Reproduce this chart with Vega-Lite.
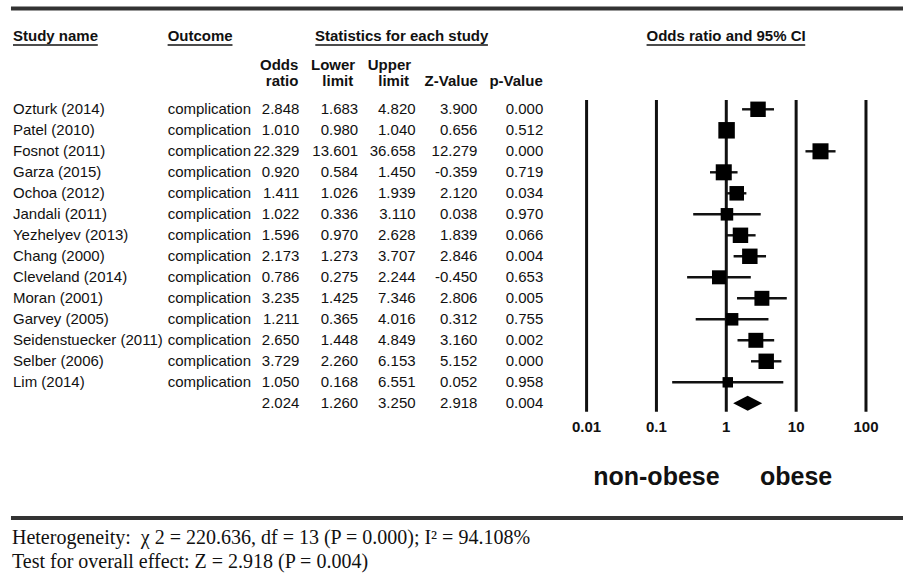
{
  "$schema": "https://vega.github.io/schema/vega-lite/v6.json",
  "width": 905,
  "height": 578,
  "autosize": {"type": "fit", "contains": "padding"},
  "padding": 0,
  "background": "white",
  "config": {
    "view": {"stroke": null},
    "locale": {"number": {"decimal": ".", "thousands": ",", "grouping": [3], "currency": ["$", ""], "minus": "-"}},
    "text": {"font": "Liberation Sans", "fontSize": 15, "color": "#111"}
  },
  "datasets": {
    "rows": [
      {"i": 0, "kind": "study", "study": "Ozturk (2014)", "outcome": "complication", "or": 2.848, "lo": 1.683, "hi": 4.820, "z": 3.900, "p": 0.000, "w": 7.9},
      {"i": 1, "kind": "study", "study": "Patel (2010)", "outcome": "complication", "or": 1.010, "lo": 0.980, "hi": 1.040, "z": 0.656, "p": 0.512, "w": 9.0},
      {"i": 2, "kind": "study", "study": "Fosnot (2011)", "outcome": "complication", "or": 22.329, "lo": 13.601, "hi": 36.658, "z": 12.279, "p": 0.000, "w": 8.5},
      {"i": 3, "kind": "study", "study": "Garza (2015)", "outcome": "complication", "or": 0.920, "lo": 0.584, "hi": 1.450, "z": -0.359, "p": 0.719, "w": 8.5},
      {"i": 4, "kind": "study", "study": "Ochoa (2012)", "outcome": "complication", "or": 1.411, "lo": 1.026, "hi": 1.939, "z": 2.120, "p": 0.034, "w": 7.0},
      {"i": 5, "kind": "study", "study": "Jandali (2011)", "outcome": "complication", "or": 1.022, "lo": 0.336, "hi": 3.110, "z": 0.038, "p": 0.970, "w": 5.2},
      {"i": 6, "kind": "study", "study": "Yezhelyev (2013)", "outcome": "complication", "or": 1.596, "lo": 0.970, "hi": 2.628, "z": 1.839, "p": 0.066, "w": 7.9},
      {"i": 7, "kind": "study", "study": "Chang (2000)", "outcome": "complication", "or": 2.173, "lo": 1.273, "hi": 3.707, "z": 2.846, "p": 0.004, "w": 7.9},
      {"i": 8, "kind": "study", "study": "Cleveland (2014)", "outcome": "complication", "or": 0.786, "lo": 0.275, "hi": 2.244, "z": -0.450, "p": 0.653, "w": 6.5},
      {"i": 9, "kind": "study", "study": "Moran (2001)", "outcome": "complication", "or": 3.235, "lo": 1.425, "hi": 7.346, "z": 2.806, "p": 0.005, "w": 7.4},
      {"i": 10, "kind": "study", "study": "Garvey (2005)", "outcome": "complication", "or": 1.211, "lo": 0.365, "hi": 4.016, "z": 0.312, "p": 0.755, "w": 5.2},
      {"i": 11, "kind": "study", "study": "Seidenstuecker (2011)", "outcome": "complication", "or": 2.650, "lo": 1.448, "hi": 4.849, "z": 3.160, "p": 0.002, "w": 7.4},
      {"i": 12, "kind": "study", "study": "Selber (2006)", "outcome": "complication", "or": 3.729, "lo": 2.260, "hi": 6.153, "z": 5.152, "p": 0.000, "w": 7.9},
      {"i": 13, "kind": "study", "study": "Lim (2014)", "outcome": "complication", "or": 1.050, "lo": 0.168, "hi": 6.551, "z": 0.052, "p": 0.958, "w": 3.6},
      {"i": 14, "kind": "summary", "study": "", "outcome": "", "or": 2.024, "lo": 1.260, "hi": 3.250, "z": 2.918, "p": 0.004, "w": null}
    ],
    "ticks": [
      {"v": 0.01, "label": "0.01"},
      {"v": 0.1, "label": "0.1"},
      {"v": 1, "label": "1"},
      {"v": 10, "label": "10"},
      {"v": 100, "label": "100"}
    ],
    "sides": [
      {"v": 0.1, "label": "non-obese"},
      {"v": 10, "label": "obese"}
    ]
  },
  "resolve": {"scale": {"x": "independent"}},
  "layer": [
    {
      "layer": [
        {
          "data": {"values": [{}]},
          "mark": {"type": "rule", "strokeWidth": 4, "color": "#333"},
          "encoding": {
            "x": {"datum": 11, "type": "quantitative", "scale": {"domain": [0, 905], "nice": false, "zero": false}, "axis": null},
            "x2": {"datum": 905},
            "y": {"datum": -4.8, "type": "quantitative", "scale": {"domain": [-5.205, 22.319], "reverse": true, "nice": false, "zero": false}, "axis": null}
          }
        },
        {
          "data": {"values": [{}]},
          "mark": {"type": "rule", "strokeWidth": 4, "color": "#333"},
          "encoding": {
            "x": {"datum": 11, "type": "quantitative"},
            "x2": {"datum": 905},
            "y": {"datum": 19.46, "type": "quantitative"}
          }
        },
        {
          "data": {"values": [{"label": "Study name"}]},
          "mark": {"type": "text", "align": "left", "baseline": "middle", "fontWeight": "bold"},
          "encoding": {"x": {"datum": 13, "type": "quantitative"}, "y": {"datum": -3.514, "type": "quantitative"}, "text": {"field": "label"}}
        },
        {
          "data": {"values": [{"label": "Outcome"}]},
          "mark": {"type": "text", "align": "left", "baseline": "middle", "fontWeight": "bold"},
          "encoding": {"x": {"datum": 168, "type": "quantitative"}, "y": {"datum": -3.514, "type": "quantitative"}, "text": {"field": "label"}}
        },
        {
          "data": {"values": [{"label": "Statistics for each study"}]},
          "mark": {"type": "text", "align": "center", "baseline": "middle", "fontWeight": "bold"},
          "encoding": {"x": {"datum": 402.5, "type": "quantitative"}, "y": {"datum": -3.514, "type": "quantitative"}, "text": {"field": "label"}}
        },
        {
          "data": {"values": [{"label": "Odds ratio and 95% CI"}]},
          "mark": {"type": "text", "align": "center", "baseline": "middle", "fontWeight": "bold"},
          "encoding": {"x": {"datum": 727.7, "type": "quantitative"}, "y": {"datum": -3.514, "type": "quantitative"}, "text": {"field": "label"}}
        },
        {
          "data": {"values": [{}]},
          "mark": {"type": "rule", "strokeWidth": 1.5, "color": "#111"},
          "encoding": {"x": {"datum": 13, "type": "quantitative"}, "x2": {"datum": 98}, "y": {"datum": -3.062, "type": "quantitative"}}
        },
        {
          "data": {"values": [{}]},
          "mark": {"type": "rule", "strokeWidth": 1.5, "color": "#111"},
          "encoding": {"x": {"datum": 168, "type": "quantitative"}, "x2": {"datum": 233}, "y": {"datum": -3.062, "type": "quantitative"}}
        },
        {
          "data": {"values": [{}]},
          "mark": {"type": "rule", "strokeWidth": 1.5, "color": "#111"},
          "encoding": {"x": {"datum": 316, "type": "quantitative"}, "x2": {"datum": 489}, "y": {"datum": -3.062, "type": "quantitative"}}
        },
        {
          "data": {"values": [{}]},
          "mark": {"type": "rule", "strokeWidth": 1.5, "color": "#111"},
          "encoding": {"x": {"datum": 648, "type": "quantitative"}, "x2": {"datum": 807}, "y": {"datum": -3.062, "type": "quantitative"}}
        },
        {
          "data": {"values": [{"label": "Odds"}]},
          "mark": {"type": "text", "align": "right", "baseline": "middle", "fontWeight": "bold"},
          "encoding": {"x": {"datum": 299, "type": "quantitative"}, "y": {"datum": -2.11, "type": "quantitative"}, "text": {"field": "label"}}
        },
        {
          "data": {"values": [{"label": "ratio"}]},
          "mark": {"type": "text", "align": "right", "baseline": "middle", "fontWeight": "bold"},
          "encoding": {"x": {"datum": 299, "type": "quantitative"}, "y": {"datum": -1.348, "type": "quantitative"}, "text": {"field": "label"}}
        },
        {
          "data": {"values": [{"label": "Lower"}]},
          "mark": {"type": "text", "align": "right", "baseline": "middle", "fontWeight": "bold"},
          "encoding": {"x": {"datum": 356, "type": "quantitative"}, "y": {"datum": -2.11, "type": "quantitative"}, "text": {"field": "label"}}
        },
        {
          "data": {"values": [{"label": "limit"}]},
          "mark": {"type": "text", "align": "right", "baseline": "middle", "fontWeight": "bold"},
          "encoding": {"x": {"datum": 354, "type": "quantitative"}, "y": {"datum": -1.348, "type": "quantitative"}, "text": {"field": "label"}}
        },
        {
          "data": {"values": [{"label": "Upper"}]},
          "mark": {"type": "text", "align": "right", "baseline": "middle", "fontWeight": "bold"},
          "encoding": {"x": {"datum": 412, "type": "quantitative"}, "y": {"datum": -2.11, "type": "quantitative"}, "text": {"field": "label"}}
        },
        {
          "data": {"values": [{"label": "limit"}]},
          "mark": {"type": "text", "align": "right", "baseline": "middle", "fontWeight": "bold"},
          "encoding": {"x": {"datum": 410, "type": "quantitative"}, "y": {"datum": -1.348, "type": "quantitative"}, "text": {"field": "label"}}
        },
        {
          "data": {"values": [{"label": "Z-Value"}]},
          "mark": {"type": "text", "align": "right", "baseline": "middle", "fontWeight": "bold"},
          "encoding": {"x": {"datum": 479, "type": "quantitative"}, "y": {"datum": -1.348, "type": "quantitative"}, "text": {"field": "label"}}
        },
        {
          "data": {"values": [{"label": "p-Value"}]},
          "mark": {"type": "text", "align": "right", "baseline": "middle", "fontWeight": "bold"},
          "encoding": {"x": {"datum": 544, "type": "quantitative"}, "y": {"datum": -1.348, "type": "quantitative"}, "text": {"field": "label"}}
        },
        {
          "data": {"name": "rows"},
          "transform": [{"filter": "datum.kind == 'study'"}],
          "mark": {"type": "text", "align": "left", "baseline": "middle"},
          "encoding": {"x": {"datum": 13, "type": "quantitative"}, "y": {"field": "i", "type": "quantitative"}, "text": {"field": "study"}}
        },
        {
          "data": {"name": "rows"},
          "transform": [{"filter": "datum.kind == 'study'"}],
          "mark": {"type": "text", "align": "left", "baseline": "middle"},
          "encoding": {"x": {"datum": 168, "type": "quantitative"}, "y": {"field": "i", "type": "quantitative"}, "text": {"field": "outcome"}}
        },
        {
          "data": {"name": "rows"},
          "mark": {"type": "text", "align": "right", "baseline": "middle"},
          "encoding": {"x": {"datum": 300, "type": "quantitative"}, "y": {"field": "i", "type": "quantitative"}, "text": {"field": "or", "type": "quantitative", "format": ".3f"}}
        },
        {
          "data": {"name": "rows"},
          "mark": {"type": "text", "align": "right", "baseline": "middle"},
          "encoding": {"x": {"datum": 359, "type": "quantitative"}, "y": {"field": "i", "type": "quantitative"}, "text": {"field": "lo", "type": "quantitative", "format": ".3f"}}
        },
        {
          "data": {"name": "rows"},
          "mark": {"type": "text", "align": "right", "baseline": "middle"},
          "encoding": {"x": {"datum": 416.5, "type": "quantitative"}, "y": {"field": "i", "type": "quantitative"}, "text": {"field": "hi", "type": "quantitative", "format": ".3f"}}
        },
        {
          "data": {"name": "rows"},
          "mark": {"type": "text", "align": "right", "baseline": "middle"},
          "encoding": {"x": {"datum": 478.5, "type": "quantitative"}, "y": {"field": "i", "type": "quantitative"}, "text": {"field": "z", "type": "quantitative", "format": ".3f"}}
        },
        {
          "data": {"name": "rows"},
          "mark": {"type": "text", "align": "right", "baseline": "middle"},
          "encoding": {"x": {"datum": 544.5, "type": "quantitative"}, "y": {"field": "i", "type": "quantitative"}, "text": {"field": "p", "type": "quantitative", "format": ".3f"}}
        },
        {
          "data": {"values": [{"label": "Heterogeneity:\u00a0 χ 2 = 220.636, df = 13 (P = 0.000); I² = 94.108%"}]},
          "mark": {"type": "text", "align": "left", "baseline": "middle", "font": "Liberation Serif", "fontSize": 20},
          "encoding": {"x": {"datum": 12, "type": "quantitative"}, "y": {"datum": 20.41, "type": "quantitative"}, "text": {"field": "label"}}
        },
        {
          "data": {"values": [{"label": "Test for overall effect: Z = 2.918 (P = 0.004)"}]},
          "mark": {"type": "text", "align": "left", "baseline": "middle", "font": "Liberation Serif", "fontSize": 20},
          "encoding": {"x": {"datum": 12, "type": "quantitative"}, "y": {"datum": 21.57, "type": "quantitative"}, "text": {"field": "label"}}
        }
      ]
    },
    {
      "layer": [
        {
          "data": {"name": "ticks"},
          "mark": {"type": "rule", "strokeWidth": 3, "color": "#111"},
          "encoding": {
            "x": {"field": "v", "type": "quantitative", "scale": {"type": "log", "domain": [4e-11, 338.8], "nice": false}, "axis": null},
            "y": {"datum": -0.443, "type": "quantitative"},
            "y2": {"datum": 14.4}
          }
        },
        {
          "data": {"name": "ticks"},
          "mark": {"type": "text", "align": "center", "baseline": "middle", "fontWeight": "bold"},
          "encoding": {
            "x": {"field": "v", "type": "quantitative"},
            "y": {"datum": 15.11, "type": "quantitative"},
            "text": {"field": "label"}
          }
        },
        {
          "data": {"name": "rows"},
          "transform": [{"filter": "datum.kind == 'study'"}],
          "mark": {"type": "rule", "strokeWidth": 2.4, "color": "#111"},
          "encoding": {
            "x": {"field": "lo", "type": "quantitative"},
            "x2": {"field": "hi"},
            "y": {"field": "i", "type": "quantitative"}
          }
        },
        {
          "data": {"name": "rows"},
          "transform": [{"filter": "datum.kind == 'study'"}],
          "mark": {"type": "point", "shape": "square", "filled": true, "opacity": 1, "color": "#000"},
          "encoding": {
            "x": {"field": "or", "type": "quantitative"},
            "y": {"field": "i", "type": "quantitative"},
            "size": {"field": "w", "type": "quantitative", "scale": {"domain": [0, 9], "range": [0, 272], "zero": true}, "legend": null}
          }
        },
        {
          "data": {"name": "rows"},
          "transform": [{"filter": "datum.kind == 'summary'"}],
          "mark": {"type": "point", "shape": "M-1,0L0,-0.52L1,0L0,0.52Z", "filled": true, "opacity": 1, "color": "#000", "size": 841},
          "encoding": {
            "x": {"field": "or", "type": "quantitative"},
            "y": {"field": "i", "type": "quantitative"}
          }
        },
        {
          "data": {"name": "sides"},
          "mark": {"type": "text", "align": "center", "baseline": "middle", "fontWeight": "bold", "fontSize": 25},
          "encoding": {
            "x": {"field": "v", "type": "quantitative"},
            "y": {"datum": 17.51, "type": "quantitative"},
            "text": {"field": "label"}
          }
        }
      ]
    }
  ]
}
